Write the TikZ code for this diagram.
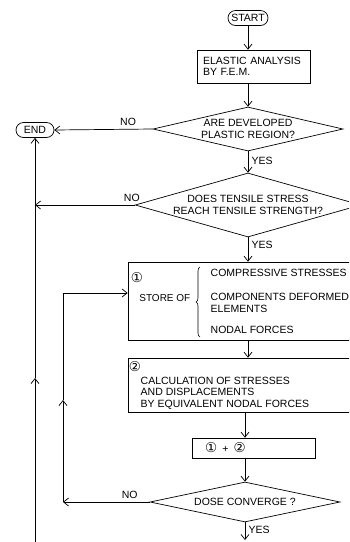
\documentclass[tikz,border=0pt]{standalone}
\usepackage{fontspec}
\setmainfont{Liberation Sans}
\newfontfamily\circfont{DejaVu Sans}
\usetikzlibrary{arrows.meta, positioning, calc, shapes.geometric, shapes.misc, decorations.pathreplacing}

\newcommand{\circnum}[1]{{\circfont\fontsize{13.5}{13.5}\selectfont #1}}

\tikzset{
  terminal/.style={draw, rounded rectangle, inner xsep=5, inner ysep=1, minimum height=15},
  procbox/.style={draw, rectangle, inner sep=0},
  decision/.style={draw, diamond, inner sep=0, shape aspect=4, align=center},
  flow/.style={-{Straight Barb[length=5pt,width=8pt]}},
  brace/.style={decorate, decoration={brace, amplitude=4pt}},
}

\begin{document}
\begin{tikzpicture}[x=1pt, y=-1pt, line width=.7pt, font=\fontsize{10.5}{11.5}\selectfont]
  \useasboundingbox (0,0) rectangle (349,542);
  \clip (0,0) rectangle (349,542);

  % main column
  \node[terminal, minimum width=50] (start) at (248,18) {START};
  \node[procbox, text width=101, inner xsep=6, minimum height=33, align=left] (elastic) at (253.5,66.5)
    {ELASTIC ANALYSIS\\BY F.E.M.};
  \node[decision, minimum width=190, minimum height=44] (plastic) at (248,129)
    {ARE DEVELOPED\\PLASTIC REGION?};
  \node[terminal, minimum width=48] (end) at (35,130) {END};
  \node[decision, minimum width=216, minimum height=64] (tensile) at (248,205)
    {DOES TENSILE STRESS\\REACH TENSILE STRENGTH?};

  % box 1
  \node[procbox, minimum width=237, minimum height=78] (store) at (246.5,301) {};
  \node (one) at (137,278) {\circnum{①}};
  \node[anchor=east, font=\fontsize{10}{11}\selectfont] (storeof) at (194,298) {STORE OF};
  \draw[brace, line width=.6pt] (200,337) -- (200,267);
  \node[anchor=west] (compr) at (207,273) {COMPRESSIVE STRESSES};
  \node[anchor=west, align=left] (compo) at (207,303) {COMPONENTS DEFORMED\\ELEMENTS};
  \node[anchor=west] (nodal) at (207,330) {NODAL FORCES};

  % box 2
  \node[procbox, minimum width=237, minimum height=54] (calc) at (246.5,385) {};
  \node (two) at (135,367) {\circnum{②}};
  \node[anchor=north west, align=left] (calctext) at (137,373)
    {CALCULATION OF STRESSES\\AND DISPLACEMENTS\\BY EQUIVALENT NODAL FORCES};

  \node[procbox, text width=97, inner xsep=13, minimum height=20, align=left] (sum) at (253.5,448)
    {\circnum{①}\enspace+\enspace\circnum{②}};
  \node[decision, minimum width=190, minimum height=40] (conv) at (245,502) {DOSE CONVERGE ?};

  % loop coordinates
  \coordinate (bendA) at (63,502);
  \coordinate (midA) at (63,400);
  \coordinate (bendB) at (63,293);
  \coordinate (endfoot) at (35,548);
  \coordinate (midB) at (35,378);
  \coordinate (joinT) at (35,205);
  \coordinate (exitC) at (245,540);

  % connectors
  \draw[flow] (start.south) -- (start.south |- elastic.north);
  \draw[flow] (start.south |- elastic.south) -- (plastic.north);
  \draw[flow] (plastic.south) -- node[right, pos=.45] {YES} (tensile.north);
  \draw[flow] (plastic.west) -- node[above, pos=.25] {NO} (end.east);
  \draw[flow] (tensile.west) -- node[above, pos=.03] {NO} (joinT);
  \draw[flow] (tensile.south) -- node[right, pos=.3] {YES} (tensile.south |- store.north);
  \draw[flow] (tensile.south |- store.south) -- (tensile.south |- calc.north);
  \draw[flow] (conv.north |- calc.south) -- (conv.north |- sum.north);
  \draw[flow] (conv.north |- sum.south) -- (conv.north);
  \draw[flow] (conv.south) -- node[right, pos=.45] {YES} (exitC);

  % return loop
  \draw[flow] (conv.west) -- node[above, pos=.23] {NO} (bendA);
  \draw[flow] (bendA) -- (midA);
  \draw (midA) -- (bendB);
  \draw[flow] (bendB) -- (bendB -| store.west);

  % exit line to END
  \draw[flow] (endfoot) -- (midB);
  \draw (midB) -- (joinT);
  \draw[flow] (joinT) -- (end.south);
\end{tikzpicture}
\end{document}
